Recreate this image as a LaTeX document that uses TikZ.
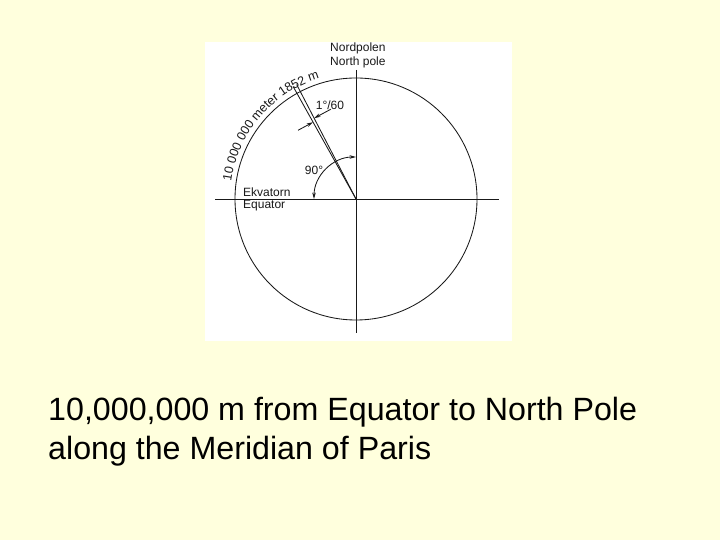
\documentclass[tikz,border=0pt]{standalone}
\usepackage{fontspec}
\setmainfont{Liberation Sans}
\usetikzlibrary{calc,decorations.text,arrows.meta}
\definecolor{bg}{RGB}{255,255,221}
\definecolor{ink}{RGB}{25,25,25}
\begin{document}
\begin{tikzpicture}[x=1pt,y=1pt,
  thinline/.style={line width=0.85pt,draw=ink},
  lbl/.style={font=\fontsize{12}{14}\selectfont, inner sep=0pt, text=ink},
  big/.style={font=\fontsize{32.2}{38}\selectfont, inner sep=0pt, anchor=base west, text=black},
  tip/.style={-{Stealth[length=6.5pt,width=3.6pt]}},
  bothtips/.style={{Stealth[length=6.5pt,width=3.6pt]}-{Stealth[length=6.5pt,width=3.6pt]}}]
\fill[bg] (0,0) rectangle (720,540);
\useasboundingbox (0,0) rectangle (720,540);
\fill[white] (205,199) rectangle (512,498);
% geometry
\coordinate (C) at (356,341);
\coordinate (N) at (356,470);
\coordinate (S) at (356,207);
\coordinate (W) at (215,341);
\coordinate (E) at (499,341);
\draw[thinline] (C) circle[radius=121];
\draw[thinline] (N) -- (S);
\draw[thinline] (W) -- (E);
% meridian wedge
\coordinate (M1) at ($(C)+(119.2:129)$);
\coordinate (M2) at ($(C)+(117.4:129)$);
\draw[thinline] (C) -- (M1);
\draw[thinline] (C) -- (M2);
% 1/60 degree dimension arrows
\coordinate (PL) at ($(C)+(119.2:88)$);
\coordinate (PR) at ($(C)+(117.4:91)$);
\coordinate (AL) at ($(PL)+(208.3:17)$);
\coordinate (AR) at ($(PR)+(28.3:19)$);
\draw[thinline,tip] (AL) -- (PL);
\draw[thinline,tip] (AR) -- (PR);
% 90 degree arc
\coordinate (A90) at ($(C)+(90:42)$);
\draw[thinline,bothtips] (A90) arc[start angle=90,end angle=180,radius=42];
% text along circle
\path[decorate,decoration={text along path,text align=left,
  text={|\fontsize{12.5}{14}\selectfont\color{ink}|10 000 000 meter 1852 m}}]
  ($(C)+(172:126)$) arc[start angle=172,end angle=100,radius=126];
% labels
\node[lbl,anchor=west] (np1) at (330,492) {Nordpolen};
\node[lbl,anchor=west] (np2) at (330,478) {North pole};
\node[lbl,anchor=west] (eq1) at (243,348) {Ekvatorn};
\node[lbl,anchor=west] (eq2) at (243,334) {Equator};
\node[lbl] (deg) at (330,435) {1°/60};
\node[lbl] (ninety) at (314,370) {90°};
% caption
\node[big] (cap1) at (48,119) {10,000,000 m from Equator to North Pole};
\node[big] (cap2) at (48,80) {along the Meridian of Paris};
\end{tikzpicture}
\end{document}
